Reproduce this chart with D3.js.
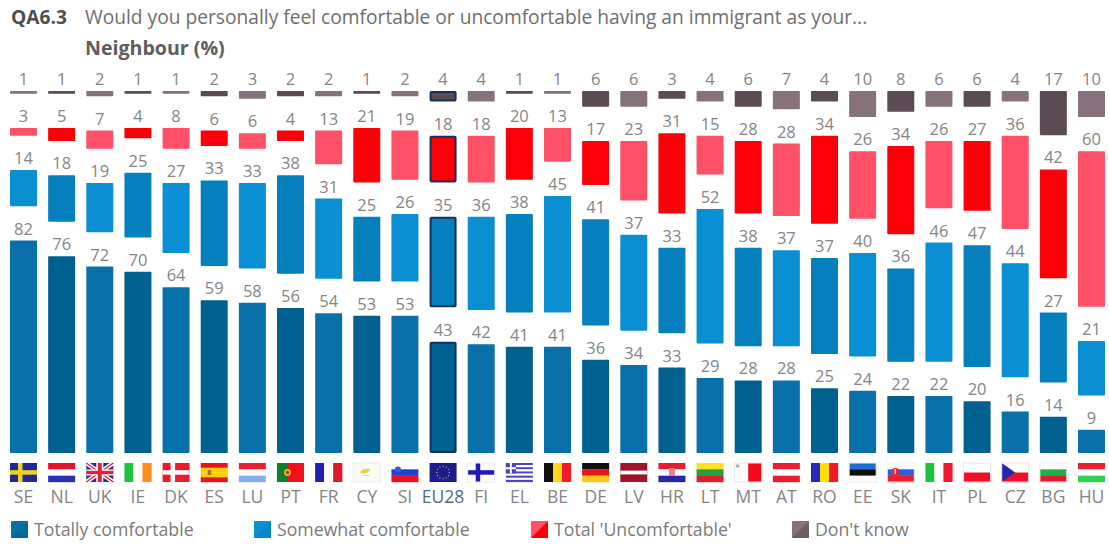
<!DOCTYPE html>
<html>
<head>
<meta charset="utf-8">
<script src="https://d3js.org/d3.v7.min.js"></script>
<style>
  html, body { margin: 0; padding: 0; background: #fff; }
  svg { display: block; font-family: "Open Sans", "Noto Sans", sans-serif; }
</style>
</head>
<body>
<svg id="chart" width="1109" height="544"></svg>
<script>
// Country order and survey results, in percent
const countries = ["SE","NL","UK","IE","DK","ES","LU","PT","FR","CY","SI","EU28","FI","EL","BE","DE","LV","HR","LT","MT","AT","RO","EE","SK","IT","PL","CZ","BG","HU"];
const totallyComfortable = [82,76,72,70,64,59,58,56,54,53,53,43,42,41,41,36,34,33,29,28,28,25,24,22,22,20,16,14,9];
const somewhatComfortable = [14,18,19,25,27,33,33,38,31,25,26,35,36,38,45,41,37,33,52,38,37,37,40,36,46,47,44,27,21];
const totalUncomfortable = [3,5,7,4,8,6,6,4,13,21,19,18,18,20,13,17,23,31,15,28,28,34,26,34,26,27,36,42,60];
const dontKnow = [1,1,2,1,1,2,3,2,2,1,2,4,4,1,1,6,6,3,4,6,7,4,10,8,6,6,4,17,10];

const seriesNames = ["Totally comfortable","Somewhat comfortable","Total 'Uncomfortable'","Don't know"];
const seriesValues = [totallyComfortable, somewhatComfortable, totalUncomfortable, dontKnow];
// Each series alternates between two tones from one country to the next
const seriesTones = [
  ["#0a70aa","#00608f"],
  ["#0a90d2","#067fbd"],
  ["#fe5066","#fb0008"],
  ["#85727a","#5b4b52"]
];
const legendSwatchX = [11, 254, 531, 792];
const legendTextX = [34, 277, 554, 815];

const questionCode = "QA6.3";
const questionText = "Would you personally feel comfortable or uncomfortable having an immigrant as your...";
const subTitle = "Neighbour (%)";

const svg = d3.select("#chart");

const baseline = 453;
const rowGap = 34.3;
const x = d3.scaleBand().domain(countries).range([10, 1105]).paddingInner(0.292).paddingOuter(0);
const h = d3.scaleLinear().domain([0, 100]).range([0, 259]);

// Segments are stacked from the baseline with a fixed gap between series
countries.forEach((c, i) => {
  let cursor = baseline;
  seriesValues.forEach((vals, s) => {
    const v = vals[i];
    const barH = h(v);
    const top = cursor - barH;
    const isEU = c === "EU28";
    svg.append("rect")
      .attr("class", "bar")
      .attr("x", x(c) + (isEU ? 1 : 0))
      .attr("y", top + (isEU ? 1 : 0))
      .attr("width", x.bandwidth() - (isEU ? 2 : 0))
      .attr("height", Math.max(barH - (isEU ? 2 : 0), 1))
      .attr("rx", 0.8)
      .attr("fill", seriesTones[s][i % 2])
      .attr("stroke", isEU ? "#16305c" : "none")
      .attr("stroke-width", isEU ? 2 : 0);
    svg.append("text")
      .attr("x", x(c) + x.bandwidth() / 2)
      .attr("y", top - 6)
      .attr("text-anchor", "middle")
      .attr("font-size", 16.5)
      .attr("fill", "#858585")
      .text(v);
    cursor = top - rowGap;
  });
});

// Country codes along the bottom
const axis = d3.axisBottom(x).tickSize(0).tickPadding(0);
const axisG = svg.append("g").attr("transform", "translate(0,491)").call(axis);
axisG.select(".domain").remove();
axisG.selectAll("text")
  .attr("font-family", "'Open Sans', sans-serif")
  .attr("font-size", 17.5)
  .attr("fill", d => d === "EU28" ? "#56688a" : "#858585");

// Flags are drawn on a 27 x 19 grid
const FW = x.bandwidth(), FH = 19;
const BLUE = "#2a2fb8", GREEN = "#18b830", WHITE = "#ffffff";

function box(g, px, py, pw, ph, fill) {
  return g.append("rect").attr("x", px).attr("y", py).attr("width", pw).attr("height", ph).attr("fill", fill);
}
function hBands(g, colors) {
  colors.forEach((col, k) => box(g, 0, k * FH / colors.length, FW, FH / colors.length + 0.2, col));
}
function vBands(g, colors) {
  colors.forEach((col, k) => box(g, k * FW / colors.length, 0, FW / colors.length + 0.2, FH, col));
}
function nordic(g, bg, cross) {
  box(g, 0, 0, FW, FH, bg);
  box(g, 8, 0, 4.5, FH, cross);
  box(g, 0, 7.2, FW, 4.5, cross);
}
function crest(g, cx, cy, r, col) {
  g.append("circle").attr("cx", cx).attr("cy", cy).attr("r", r).attr("fill", col);
}
function pale(g, col) {
  g.append("rect").attr("width", FW).attr("height", FH).attr("fill", "none").attr("stroke", col);
}

const flags = {
  SE: g => nordic(g, "#1e2a98", "#f2d21a"),
  NL: g => hBands(g, ["#e8102a", WHITE, BLUE]),
  UK: g => {
    box(g, 0, 0, FW, FH, "#2a2a90");
    const diag = [[0,0,FW,FH],[FW,0,0,FH]];
    diag.forEach(d => g.append("line").attr("x1", d[0]).attr("y1", d[1]).attr("x2", d[2]).attr("y2", d[3]).attr("stroke", WHITE).attr("stroke-width", 4));
    diag.forEach(d => g.append("line").attr("x1", d[0]).attr("y1", d[1]).attr("x2", d[2]).attr("y2", d[3]).attr("stroke", "#e0203c").attr("stroke-width", 1.4));
    box(g, 10, 0, 7, FH, WHITE); box(g, 0, 6.5, FW, 6, WHITE);
    box(g, 11.5, 0, 4, FH, "#e0203c"); box(g, 0, 7.8, FW, 3.4, "#e0203c");
  },
  IE: g => vBands(g, ["#20c040", WHITE, "#ff9020"]),
  DK: g => nordic(g, "#e81c2c", WHITE),
  ES: g => {
    hBands(g, ["#e8141c", "#ffd000", "#ffd000", "#e8141c"]);
    box(g, 7, 7, 3.5, 5, "#b8701c");
  },
  LU: g => hBands(g, ["#ee2030", WHITE, "#80b0f0"]),
  PT: g => {
    box(g, 0, 0, FW, FH, "#f01018");
    box(g, 0, 0, 10.5, FH, "#108030");
    crest(g, 10.5, 9.5, 3.4, "#e8c020");
    crest(g, 10.5, 9.5, 1.7, "#d02020");
  },
  FR: g => vBands(g, ["#2420b0", WHITE, "#d81c28"]),
  CY: g => {
    box(g, 0, 0, FW, FH, "#fbfbf6");
    g.append("ellipse").attr("cx", 12).attr("cy", 8).attr("rx", 5).attr("ry", 2).attr("fill", "#e8d050").attr("transform", "rotate(-18 12 8)");
    box(g, 10, 12, 6, 1, "#b8d8a0");
    pale(g, "#ececec");
  },
  SI: g => {
    hBands(g, [WHITE, "#2040d0", "#ee1020"]);
    crest(g, 6.5, 6.5, 3, "#3858d8");
  },
  EU28: g => {
    box(g, 0, 0, FW, FH, "#1c1c8c");
    d3.range(12).forEach(k => {
      const a = k * Math.PI / 6;
      crest(g, FW / 2 + 6.3 * Math.cos(a), FH / 2 + 6.3 * Math.sin(a), 0.65, "#d8c840");
    });
  },
  FI: g => {
    nordic(g, WHITE, "#2018b8");
    pale(g, "#ececf4");
  },
  EL: g => {
    d3.range(9).forEach(k => box(g, 0, k * FH / 9, FW, FH / 9 + 0.1, k % 2 ? WHITE : "#4a44c8"));
    box(g, 0, 0, 10, 10.5, "#4a44c8");
    box(g, 4, 0, 2, 10.5, WHITE);
    box(g, 0, 4.2, 10, 2, WHITE);
  },
  BE: g => vBands(g, ["#101010", "#ffd818", "#f01c28"]),
  DE: g => hBands(g, ["#101010", "#e81818", "#ffc818"]),
  LV: g => {
    box(g, 0, 0, FW, FH, "#a01428");
    box(g, 0, 7.6, FW, 3.8, WHITE);
  },
  HR: g => {
    hBands(g, ["#e81c2c", WHITE, "#2428a8"]);
    box(g, 10.5, 5, 6, 8, "#e88090");
  },
  LT: g => hBands(g, ["#ffe020", "#20a040", "#e01c2c"]),
  MT: g => {
    vBands(g, [WHITE, "#f20a18"]);
    box(g, 1.5, 1.5, 3, 3, "#a8a8a8");
    pale(g, "#f0e4e4");
  },
  AT: g => hBands(g, ["#ee1c30", WHITE, "#ee1c30"]),
  RO: g => vBands(g, ["#2828c0", "#ffe000", "#ee1c28"]),
  EE: g => {
    hBands(g, ["#1c70d0", "#0c0c0c", WHITE]);
    pale(g, "#ececec");
  },
  SK: g => {
    hBands(g, [WHITE, "#2860e0", "#ee1c28"]);
    crest(g, 8, 9, 4, "#e82838");
    box(g, 7.4, 6, 1.2, 5, WHITE);
    pale(g, "#eeeeee");
  },
  IT: g => vBands(g, ["#20c040", WHITE, "#ee1c30"]),
  PL: g => {
    hBands(g, [WHITE, "#ee1028"]);
    pale(g, "#f0e8e8");
  },
  CZ: g => {
    hBands(g, [WHITE, "#ee1028"]);
    g.append("path").attr("d", `M0 0L${FW * 0.5} ${FH / 2}L0 ${FH}Z`).attr("fill", "#2428a8");
    pale(g, "#f0e8e8");
  },
  BG: g => {
    hBands(g, [WHITE, "#20b048", "#e01c28"]);
    pale(g, "#f0f0f0");
  },
  HU: g => hBands(g, ["#e82030", WHITE, "#30d050"])
};

countries.forEach(c => {
  const g = svg.append("g").attr("transform", `translate(${x(c)},463)`);
  flags[c](g);
});

// Legend swatches are split along the diagonal into the two series tones
seriesNames.forEach((name, s) => {
  const g = svg.append("g").attr("transform", `translate(${legendSwatchX[s]},521)`);
  g.append("rect").attr("width", 17).attr("height", 17).attr("rx", 1).attr("fill", seriesTones[s][0]);
  g.append("path").attr("d", "M0 17L17 0L17 17Z").attr("fill", seriesTones[s][1]).attr("opacity", s === 2 ? 1 : 0.55);
  svg.append("text")
    .attr("x", legendTextX[s]).attr("y", 536)
    .attr("font-size", 17.7).attr("fill", "#7a7a7a").text(name);
});

// Question heading
svg.append("text").attr("x", 11).attr("y", 24).attr("font-size", 19.2).attr("font-weight", 700).attr("fill", "#4f4f4f").text(questionCode);
svg.append("text").attr("x", 85).attr("y", 24).attr("font-size", 19.2).attr("fill", "#6e6e6e").text(questionText);
svg.append("text").attr("x", 85).attr("y", 55).attr("font-size", 19.6).attr("font-weight", 700).attr("fill", "#5e5e5e").text(subTitle);
</script>
</body>
</html>
